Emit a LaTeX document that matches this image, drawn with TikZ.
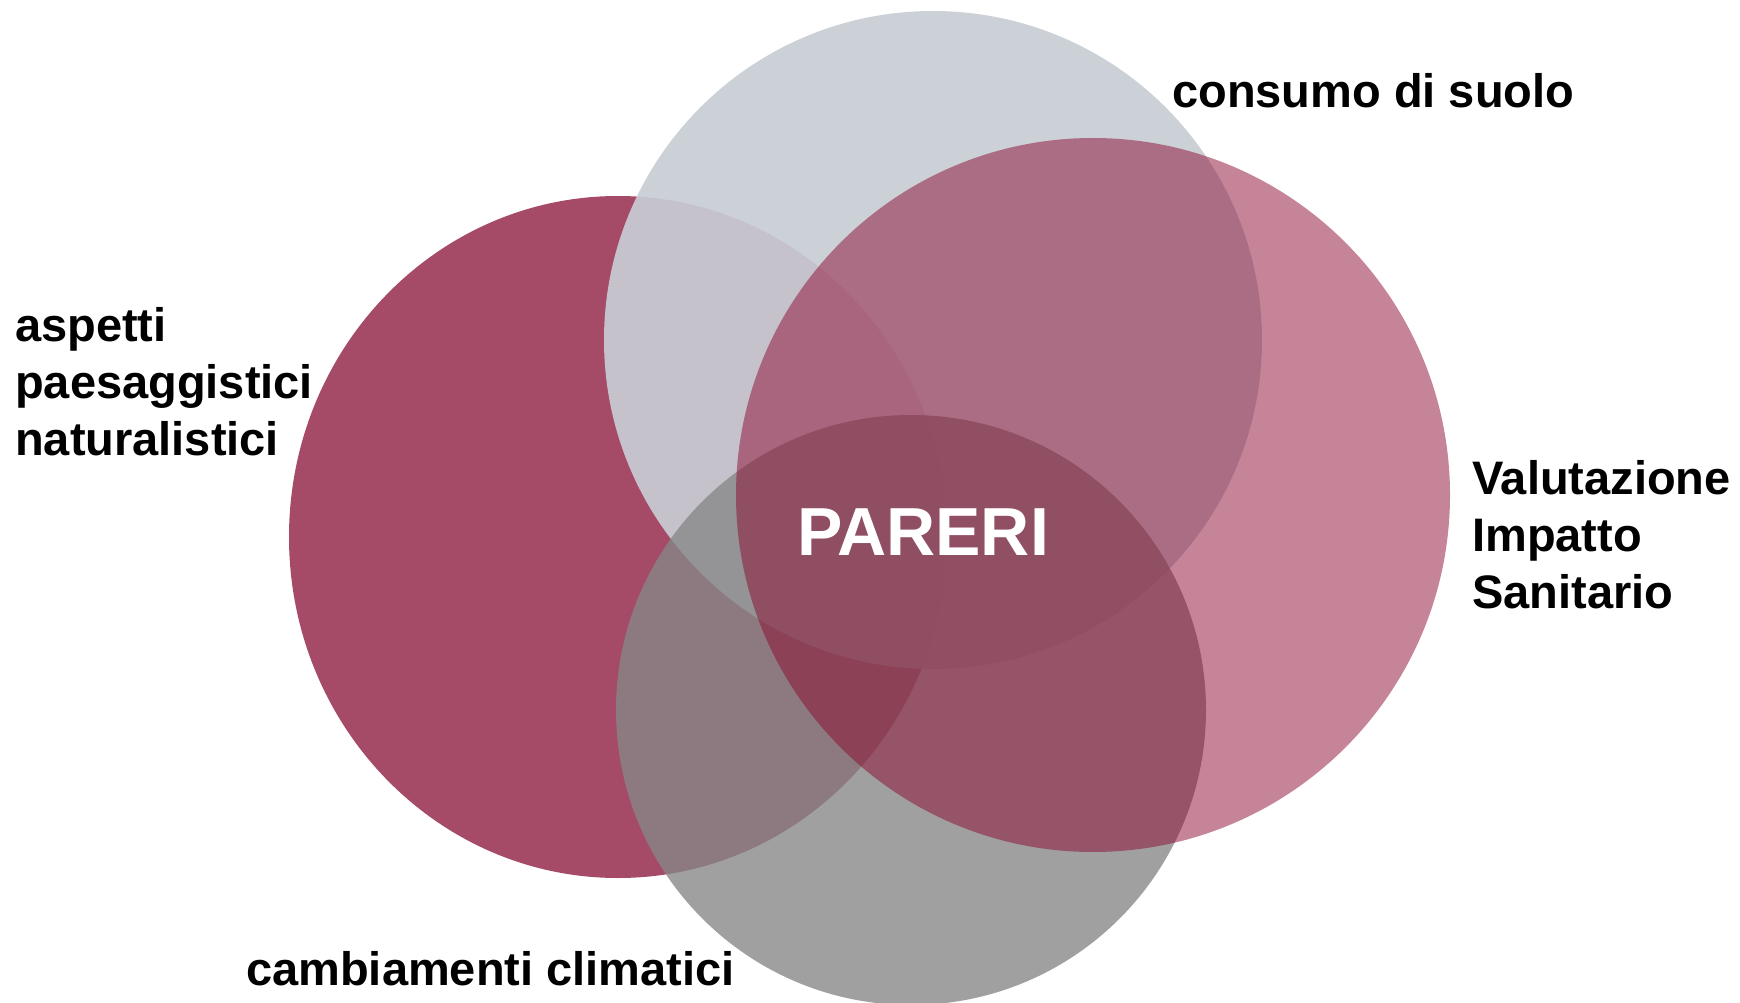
\documentclass[tikz,border=0pt]{standalone}
\usepackage{fontspec}
\setmainfont{Liberation Sans}
\definecolor{redc}{HTML}{A54A67}
\definecolor{topc}{HTML}{C8CDD4}
\definecolor{botc}{HTML}{878787}
\definecolor{pinkc}{HTML}{8C0A30}
\begin{document}
\begin{tikzpicture}[x=1pt,y=-1pt,
  lbl/.style={font=\fontsize{47}{57}\selectfont\bfseries, inner sep=0pt, align=left, text=black, anchor=base west},
  centre/.style={font=\fontsize{68}{70}\selectfont\bfseries, inner sep=0pt, text=white, anchor=base}]
\useasboundingbox (0,0) rectangle (1740,1003);
% circles
\fill[redc] (618,537) ellipse [x radius=329, y radius=341];
\fill[topc, fill opacity=0.92] (933,340) circle [radius=329];
\fill[botc, fill opacity=0.79] (911,710) circle [radius=295];
\fill[pinkc, fill opacity=0.5] (1093,495) circle [radius=357];
% labels (base anchor = baseline of the last line)
\node[lbl] (cons) at (1172,108) {consumo di suolo};
\node[lbl] (asp) at (15,455) {aspetti\\paesaggistici\\naturalistici};
\node[lbl] (vis) at (1472,608) {Valutazione\\Impatto\\Sanitario};
\node[lbl] (cc) at (246,985) {cambiamenti climatici};
\node[centre] (par) at (923,555) {PARERI};
\end{tikzpicture}
\end{document}
